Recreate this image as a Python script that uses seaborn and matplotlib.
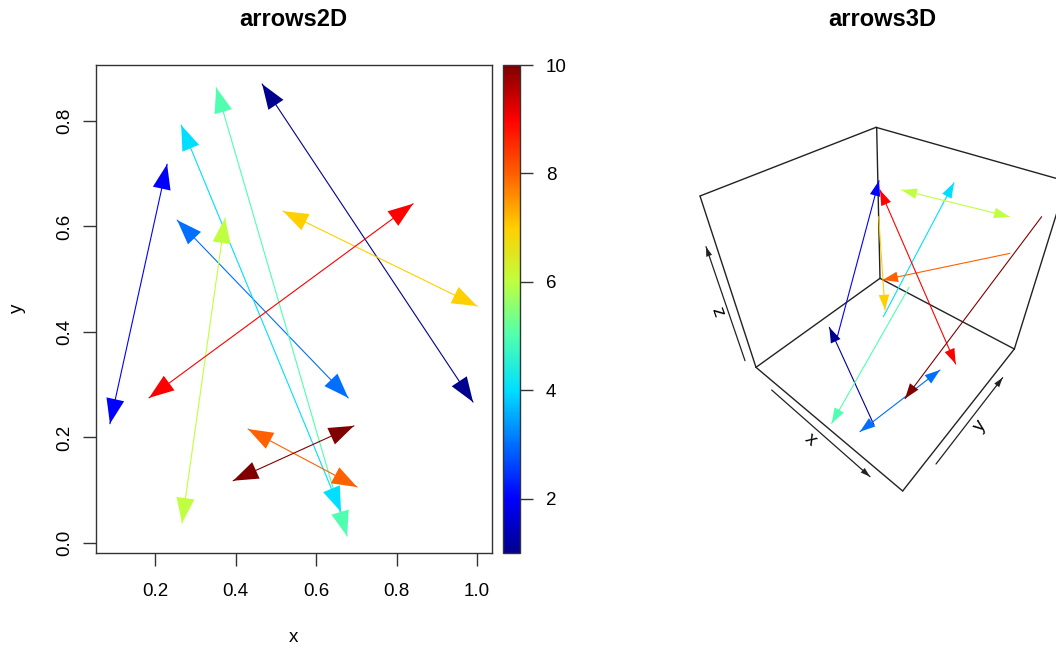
import matplotlib
matplotlib.use("Agg")
import matplotlib.pyplot as plt
import pandas as pd
import seaborn as sns
from matplotlib.cm import ScalarMappable
from matplotlib.colors import Normalize

levels = [1, 2, 3, 4, 5, 6, 7, 8, 9, 10]
colours = ["#00008F", "#0000FF", "#006FFF", "#00DFFF", "#4FFFAF",
           "#BFFF40", "#FFCF00", "#FF6000", "#FF0000", "#800000"]

# arrows2D, data values
x0 = [0.990, 0.088, 0.680, 0.662, 0.677, 0.267, 1.000, 0.702, 0.185, 0.694]
y0 = [0.267, 0.226, 0.275, 0.059, 0.013, 0.038, 0.449, 0.106, 0.275, 0.222]
x1 = [0.466, 0.230, 0.255, 0.265, 0.352, 0.374, 0.518, 0.431, 0.841, 0.394]
y1 = [0.870, 0.718, 0.612, 0.792, 0.863, 0.616, 0.629, 0.216, 0.643, 0.118]

# arrows3D (screen units)
sx0 = [582, 472, 780, 610, 687, 988, 596, 990, 827, 1085]
sy0 = [945, 680, 780, 620, 532, 320, 320, 430, 762, 320]
sx1 = [448, 597, 540, 822, 455, 665, 615, 608, 600, 675]
sy1 = [652, 212, 965, 218, 940, 240, 600, 510, 240, 866]
both_ends = [False, False, True, False, False, True, False, False, True, False]

# perspective box edges
box_x = [[60, 588], [588, 1160], [60, 228], [228, 668], [668, 1003], [1003, 1160],
         [228, 600], [600, 1003], [590, 600]]
box_y = [[258, 52], [52, 214], [258, 772], [772, 1143], [1143, 717], [717, 214],
         [772, 505], [505, 717], [52, 505]]
axis_start = [(195, 752), (275, 840), (768, 1062)]
axis_end = [(78, 410), (570, 1100), (968, 803)]

W, H = 1056, 648
sns.set_theme(style="white")
plt.rcParams["font.family"] = ["Liberation Sans", "DejaVu Sans"]
plt.rcParams["text.color"] = "black"
ink = "#333333"
label_size = 13.5
title_size = 17

fig = plt.figure(figsize=(W / 100, H / 100), dpi=100)


def box(l, t, r, b):
    return [l / W, 1 - b / H, (r - l) / W, (b - t) / H]


def heads(ax, start, end, colour, both=True, length=18, half=6.5):
    style = f"{'<|-|>' if both else '-|>'},head_length={length},head_width={half}"
    ax.annotate("", xy=end, xytext=start, annotation_clip=False,
                arrowprops=dict(arrowstyle=style, mutation_scale=1, color=colour,
                                lw=0, shrinkA=0, shrinkB=0))


# left panel
ax = fig.add_axes(box(96, 65, 492, 553))
df = pd.DataFrame({"x": x0 + x1, "y": y0 + y1, "level": levels + levels})
sns.lineplot(data=df, x="x", y="y", hue="level", units="level", estimator=None,
             sort=False, palette=dict(zip(levels, colours)), legend=False, lw=0.8, ax=ax)
for i, c in enumerate(colours):
    heads(ax, (x0[i], y0[i]), (x1[i], y1[i]), c)
ax.set_xlim(0.0534, 1.037)
ax.set_ylim(-0.019, 0.906)
ax.set_xticks([0.2, 0.4, 0.6, 0.8, 1.0])
ax.set_yticks([0.0, 0.2, 0.4, 0.6, 0.8])
ax.tick_params(axis="x", bottom=True, length=9.5, width=1, color=ink,
               labelsize=label_size, labelcolor="black", pad=12)
ax.tick_params(axis="y", left=True, length=9.5, width=1, color=ink,
               labelsize=label_size, labelcolor="black", pad=7)
for t in ax.get_yticklabels():
    t.set_rotation(90)
    t.set_va("center")
for s in ax.spines.values():
    s.set_color(ink)
    s.set_linewidth(1)
ax.set_xlabel("")
ax.set_ylabel("")
fig.text(293 / W, 1 - 638 / H, "x", ha="center", va="center", fontsize=label_size)
fig.text(17 / W, 1 - 308 / H, "y", ha="center", va="center", fontsize=label_size, rotation=90)
fig.text(293 / W, 1 - 20 / H, "arrows2D", ha="center", va="center", fontsize=title_size,
         fontweight="bold")

# colour key
cax = fig.add_axes(box(503, 65, 520, 553))
sm = ScalarMappable(norm=Normalize(1, 10), cmap=sns.blend_palette(colours, as_cmap=True))
cb = fig.colorbar(sm, cax=cax, ticks=[2, 4, 6, 8, 10])
cb.outline.set_edgecolor(ink)
cb.outline.set_linewidth(1)
cax.tick_params(right=True, length=9.5, width=1, color=ink, labelsize=label_size,
                labelcolor="black", pad=9)

# right panel
ax3 = fig.add_axes(box(680, 110, 1056, 500))
ax3.set_xlim(0, 1128)
ax3.set_ylim(1170, 0)
ax3.axis("off")
for bx, by in zip(box_x, box_y):
    sns.lineplot(x=bx, y=by, sort=False, estimator=None, color="#222222", lw=1, ax=ax3,
                 legend=False)
for s, e in zip(axis_start, axis_end):
    ax3.plot([s[0], e[0]], [s[1], e[1]], color="#222222", lw=0.9)
    heads(ax3, s, e, "#222222", both=False, length=7, half=2.2)
df3 = pd.DataFrame({"x": sx0 + sx1, "y": sy0 + sy1, "level": levels + levels})
sns.lineplot(data=df3, x="x", y="y", hue="level", units="level", estimator=None,
             sort=False, palette=dict(zip(levels, colours)), legend=False, lw=0.8, ax=ax3)
for i, c in enumerate(colours):
    heads(ax3, (sx0[i], sy0[i]), (sx1[i], sy1[i]), c, both=both_ends[i], length=11, half=3.8)
ax3.text(110, 605, "z", rotation=-70, ha="center", va="center", fontsize=label_size)
ax3.text(392, 988, "x", rotation=-42, ha="center", va="center", fontsize=label_size)
ax3.text(900, 948, "y", rotation=52, ha="center", va="center", fontsize=label_size)
fig.text(882 / W, 1 - 20 / H, "arrows3D", ha="center", va="center", fontsize=title_size,
         fontweight="bold")

fig.savefig("out.png", dpi=100)
